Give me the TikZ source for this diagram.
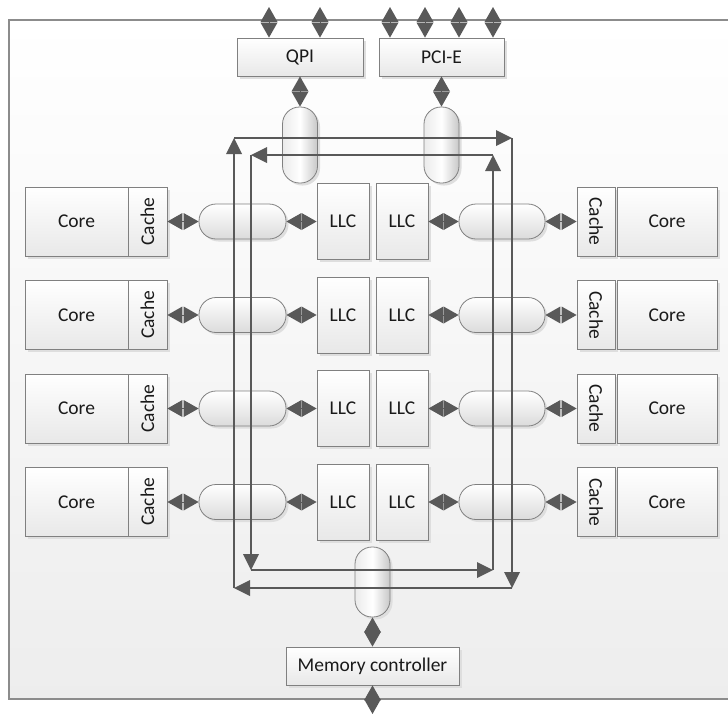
\documentclass[tikz,border=0pt]{standalone}
\usepackage{fontspec}
\usepackage{graphicx}
\setmainfont{Carlito}
\usetikzlibrary{arrows.meta,shadows}

\definecolor{ln}{HTML}{595959}
\definecolor{edge}{HTML}{808080}
\definecolor{txt}{HTML}{1A1A1A}

\tikzset{
  shade box/.style={drop shadow={shadow xshift=2.5pt, shadow yshift=-2.5pt, fill=black!13, opacity=1}},
  box/.style={draw=edge, line width=0.8pt, top color=white, bottom color=black!9,
    shade box, inner sep=0pt, font=\fontsize{19.5}{22}\selectfont, text=txt},
  pill/.style={draw=edge, line width=0.8pt, rounded corners=17pt, inner sep=0pt, shade box},
  vpill/.style={pill, minimum width=35pt, left color=black!8, right color=black!22, middle color=white},
  hpill/.style={pill, minimum height=35pt, top color=white, bottom color=black!14},
  dia/.style={draw=ln, line width=0.5pt,
    {Triangle[length=15pt,width=17pt,line width=0pt]}-{Triangle[length=15pt,width=17pt,line width=0pt]}},
  ring/.style={draw=ln, line width=2pt, -{Triangle[length=16pt,width=16pt,line width=0pt]}},
}

\begin{document}
\begin{tikzpicture}[x=1pt, y=-1pt]
  \clip (0,0) rectangle (728,713);
  % enclosing package outline
  \draw[draw=black!45, line width=1.3pt, top color=white, bottom color=black!7]
    (9,20) rectangle (760,699);

  % uncore blocks
  \node[box, minimum width=126pt, minimum height=38pt] (qpi) at (300,57) {QPI};
  \node[box, minimum width=125pt, minimum height=38pt] (pcie) at (441.5,57) {PCI-E};
  \node[vpill, minimum height=76pt] (tq) at (300,145) {};
  \node[vpill, minimum height=76pt] (tp) at (441.5,145) {};
  \node[vpill, minimum height=70pt] (bm) at (372.5,582) {};
  \node[box, minimum width=173pt, minimum height=38pt] (mc) at (372.5,666) {Memory controller};

  % core slices
  \foreach \i/\y in {1/221.5,2/315,3/408.5,4/502} {
    \node[box, minimum width=103pt, minimum height=69pt] (lc\i) at (76.5,\y) {Core};
    \node[box, minimum width=39pt, minimum height=69pt] (lk\i) at (147.5,\y) {\rotatebox{90}{Cache}};
    \node[hpill, minimum width=87pt] (lp\i) at (242.5,\y) {};
    \node[box, minimum width=52pt, minimum height=76pt] (la\i) at (343,\y) {LLC};
    \node[box, minimum width=52pt, minimum height=76pt] (lb\i) at (402,\y) {LLC};
    \node[hpill, minimum width=86pt] (rp\i) at (502,\y) {};
    \node[box, minimum width=38pt, minimum height=69pt] (rk\i) at (596,\y) {\rotatebox{-90}{Cache}};
    \node[box, minimum width=100pt, minimum height=69pt] (rc\i) at (667,\y) {Core};
  }

  % ring corners
  \coordinate (otl) at (234,138);
  \coordinate (otr) at (512,138);
  \coordinate (obr) at (512,588);
  \coordinate (obl) at (234,588);
  \coordinate (itl) at (251,155);
  \coordinate (itr) at (493,155);
  \coordinate (ibr) at (493,570);
  \coordinate (ibl) at (251,570);

  % outer ring (clockwise)
  \draw[ring] (obl) -- (otl);
  \draw[ring] (otl) -- (otr);
  \draw[ring] (otr) -- (obr);
  \draw[ring] (obr) -- (obl);
  % inner ring (counter-clockwise)
  \draw[ring] (itr) -- (itl);
  \draw[ring] (itl) -- (ibl);
  \draw[ring] (ibl) -- (ibr);
  \draw[ring] (ibr) -- (itr);

  % ring stops to slices
  \foreach \i in {1,...,4} {
    \draw[dia] (lk\i.east) -- (lp\i.west);
    \draw[dia] (lp\i.east) -- (la\i.west);
    \draw[dia] (lb\i.east) -- (rp\i.west);
    \draw[dia] (rp\i.east) -- (rk\i.west);
  }

  % ring stops to uncore
  \draw[dia] (qpi.south) -- (tq.north);
  \draw[dia] (pcie.south) -- (tp.north);
  \draw[dia] (bm.south) -- (mc.north);

  % external links
  \foreach \x [count=\k] in {269,320} {
    \coordinate (qx\k) at (\x,7);
    \draw[dia] (qx\k) -- (qx\k |- qpi.north);
  }
  \foreach \x [count=\k] in {390,425,459,493} {
    \coordinate (px\k) at (\x,7);
    \draw[dia] (px\k) -- (px\k |- pcie.north);
  }
  \coordinate (mx) at (372.5,714);
  \draw[dia] (mc.south) -- (mx);
\end{tikzpicture}
\end{document}
